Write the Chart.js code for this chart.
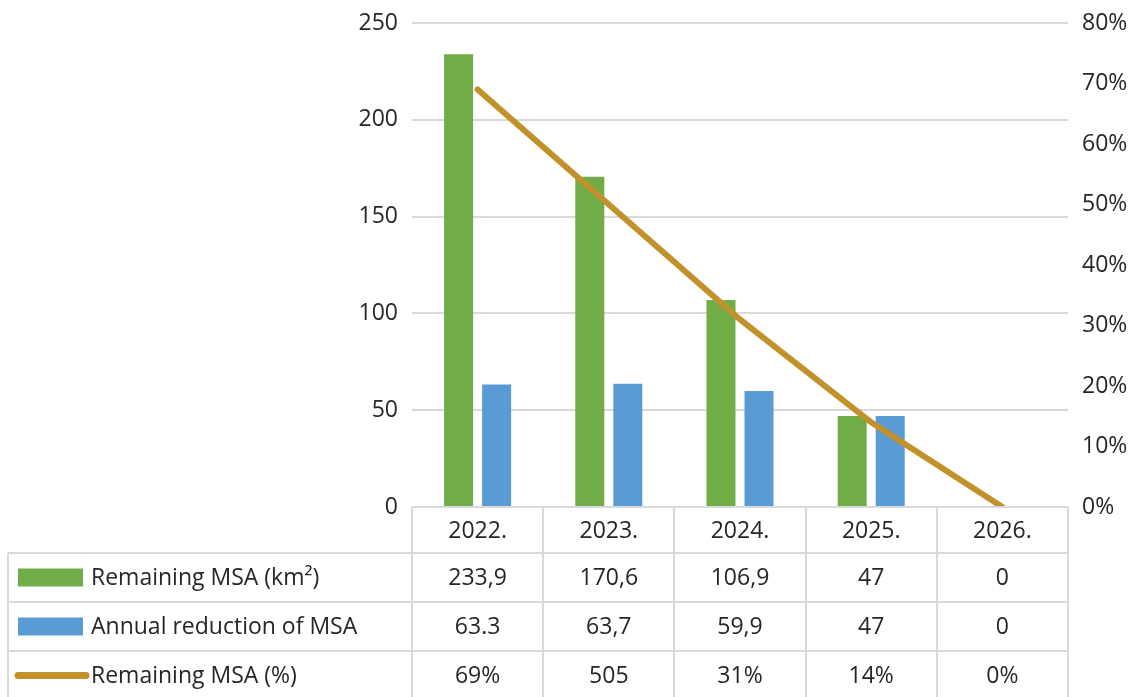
<!DOCTYPE html>
<html><head><meta charset="utf-8">
<script src="https://cdn.jsdelivr.net/npm/chart.js@4.4.1/dist/chart.umd.min.js"></script>
<style>html,body{margin:0;padding:0;background:#fff}#wrap{width:1137px;height:697px;position:relative}</style>
</head><body><div id="wrap"><canvas id="c" width="1137" height="697"></canvas></div>
<script>
const categories = ['2022.', '2023.', '2024.', '2025.', '2026.'];
const remainingKm2 = [233.9, 170.6, 106.9, 47, 0];
const annualReduction = [63.3, 63.7, 59.9, 47, 0];
const remainingPct = [69, 50, 31, 14, 0];
const remainingKm2Labels = ['233,9', '170,6', '106,9', '47', '0'];
const annualReductionLabels = ['63.3', '63,7', '59,9', '47', '0'];
const remainingPctLabels = ['69%', '505', '31%', '14%', '0%'];
const seriesNames = ['Remaining MSA (km²)', 'Annual reduction of MSA', 'Remaining MSA (%)'];
const leftAxis = { min: 0, max: 250, step: 50 };
const rightAxis = { min: 0, max: 80, step: 10 };

const FONT = "'Open Sans', 'DejaVu Sans', sans-serif";
const FS = 23;
const TEXT = '#262626';
const GRID = '#D9D9D9';
const GREEN = '#70AD47', BLUE = '#5B9BD5', GOLD = '#C1922B';

const tablePlugin = {
  id: 'dataTable',
  afterDraw(chart) {
    const ctx = chart.ctx;
    const x = chart.scales.x;
    const area = chart.chartArea;
    const n = categories.length;
    const cw = (area.right - area.left) / n;
    const top = area.bottom;
    const rowH = [46, 49, 49, 49];
    const ys = [top];
    rowH.forEach(h => ys.push(ys[ys.length - 1] + h));
    const tableLeft = 8;
    ctx.save();
    ctx.strokeStyle = GRID;
    ctx.lineWidth = 2;
    ctx.beginPath();
    ctx.moveTo(area.left, ys[0]); ctx.lineTo(area.right, ys[0]);
    for (let r = 1; r <= 3; r++) { ctx.moveTo(tableLeft, ys[r]); ctx.lineTo(area.right, ys[r]); }
    for (let i = 0; i <= n; i++) {
      const px = Math.round(area.left + i * cw);
      ctx.moveTo(px, ys[0]); ctx.lineTo(px, 697);
    }
    ctx.moveTo(tableLeft, ys[1]); ctx.lineTo(tableLeft, 697);
    ctx.stroke();

    ctx.fillStyle = TEXT;
    ctx.font = FS + 'px ' + FONT;
    ctx.textAlign = 'center';
    ctx.textBaseline = 'middle';
    const rows = [categories, remainingKm2Labels, annualReductionLabels, remainingPctLabels];
    rows.forEach((row, r) => {
      const cy = (ys[r] + ys[r + 1]) / 2 + 1;
      row.forEach((t, i) => {
        ctx.fillText(t, x.getPixelForValue(i), cy);
      });
    });
    const keyCols = [GREEN, BLUE];
    for (let r = 0; r < 2; r++) {
      const cy = (ys[r + 1] + ys[r + 2]) / 2;
      ctx.fillStyle = keyCols[r];
      ctx.fillRect(18, cy - 9, 65, 18);
    }
    {
      const cy = (ys[3] + ys[4]) / 2;
      ctx.strokeStyle = GOLD;
      ctx.lineWidth = 7;
      ctx.lineCap = 'round';
      ctx.beginPath(); ctx.moveTo(18, cy); ctx.lineTo(86, cy); ctx.stroke();
    }
    ctx.fillStyle = TEXT;
    ctx.textAlign = 'left';
    for (let r = 0; r < 3; r++) {
      const cy = (ys[r + 1] + ys[r + 2]) / 2 + 1;
      ctx.fillText(seriesNames[r], 91, cy);
    }
    ctx.restore();
  }
};

function fixPad(s, w) { s.width = w; s.paddingTop = 0; s.paddingBottom = 0; }

new Chart(document.getElementById('c'), {
  data: {
    labels: categories,
    datasets: [
      { type: 'line', label: seriesNames[2], data: remainingPct, yAxisID: 'y1', borderColor: GOLD, borderWidth: 6,
        pointRadius: 0, borderCapStyle: 'round', tension: 0, order: 0, fill: false },
      { type: 'bar', label: seriesNames[0], data: remainingKm2, yAxisID: 'y', backgroundColor: GREEN,
        barPercentage: 0.763, categoryPercentage: 0.58, order: 1 },
      { type: 'bar', label: seriesNames[1], data: annualReduction, yAxisID: 'y', backgroundColor: BLUE,
        barPercentage: 0.763, categoryPercentage: 0.58, order: 1 }
    ]
  },
  options: {
    responsive: false,
    animation: false,
    devicePixelRatio: 1,
    layout: { padding: { top: 23, bottom: 190, left: 0, right: 0 } },
    plugins: { legend: { display: false }, tooltip: { enabled: false } },
    scales: {
      x: { display: false },
      y: {
        position: 'left', min: leftAxis.min, max: leftAxis.max,
        ticks: { stepSize: leftAxis.step, color: TEXT, font: { family: FONT, size: FS }, padding: 14 },
        grid: { color: GRID, lineWidth: 2, drawTicks: false },
        border: { display: false },
        afterFit(s) { fixPad(s, 412); }
      },
      y1: {
        position: 'right', min: rightAxis.min, max: rightAxis.max,
        ticks: { stepSize: rightAxis.step, color: TEXT, font: { family: FONT, size: FS }, padding: 14,
          callback: v => v + '%' },
        grid: { display: false, drawTicks: false },
        border: { display: false },
        afterFit(s) { fixPad(s, 69); }
      }
    }
  },
  plugins: [tablePlugin]
});
</script>
</body></html>
